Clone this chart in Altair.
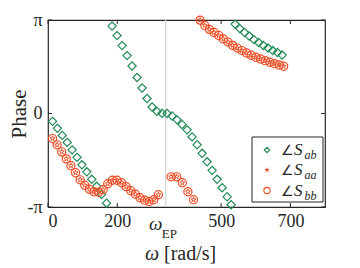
import altair as alt
import pandas as pd

# ---- data (phase in units of pi, omega in rad/s) ----
w_ab = [13.0, 27.2, 41.3, 55.5, 69.7, 83.8, 98.0, 112.1, 126.3, 140.5, 154.6, 169.1,
        185.0, 199.4, 213.9, 228.3, 242.8, 257.2, 271.7, 286.1, 300.6, 315.0, 329.5,
        343.9, 358.4, 372.8, 387.3, 401.7, 416.2, 430.6, 445.1, 459.5, 474.0, 488.4,
        502.9, 517.3, 528.9,
        540.5, 554.0, 567.6, 581.2, 594.8, 608.4, 622.0, 635.5, 649.1, 662.7, 676.3]
ph_ab = [-0.084, -0.159, -0.234, -0.309, -0.389, -0.469, -0.549, -0.624, -0.704, -0.779, -0.865, -0.959,
         0.935, 0.833, 0.726, 0.619, 0.508, 0.385, 0.273, 0.160, 0.070, 0.022, 0.003,
         0.000, -0.026, -0.068, -0.117, -0.175, -0.250, -0.335, -0.426, -0.517, -0.608, -0.704,
         -0.794, -0.891, -0.976,
         0.956, 0.908, 0.866, 0.828, 0.790, 0.759, 0.727, 0.701, 0.673, 0.652, 0.625]

w_bb = [13.0, 26.3, 39.6, 52.9, 66.2, 79.5, 92.8, 106.1, 119.4, 132.7, 146.0, 159.3,
        172.5, 185.8, 199.1, 212.4, 225.7, 239.0, 252.3, 265.6, 278.9, 292.2, 305.5, 318.8,
        355.5, 371.7, 387.9, 404.0, 420.2,
        439.3, 452.6, 466.2, 479.5, 493.1, 506.4, 519.7, 533.2, 546.5, 560.1, 573.4,
        586.7, 600.3, 613.6, 627.2, 640.5, 653.8, 667.3, 680.6]
ph_bb = [-0.268, -0.335, -0.410, -0.485, -0.559, -0.634, -0.709, -0.767, -0.810, -0.837, -0.842, -0.815,
         -0.751, -0.714, -0.714, -0.741, -0.783, -0.826, -0.863, -0.901, -0.927, -0.941, -0.922, -0.869,
         -0.677, -0.677, -0.741, -0.837, -0.922,
         0.999, 0.942, 0.900, 0.866, 0.834, 0.798, 0.764, 0.729, 0.700, 0.673, 0.647,
         0.623, 0.602, 0.583, 0.565, 0.548, 0.533, 0.519, 0.505]
w_aa = list(w_bb)
ph_aa = list(ph_bb)

w_ep = [340.0]
x_ticks = [0, 200, 500, 700]
y_ticks = [-1, 0, 1]
legend_subs = ["ab", "aa", "bb"]

# ---- style ----
FONT = "Liberation Serif"
GREEN = "#218A55"
RED = "#EE4B22"
DARK = "#262626"
W, H = 277, 187
STAR = ("M0,-1L0.225,-0.309L0.951,-0.309L0.363,0.118L0.588,0.809L0,0.382"
        "L-0.588,0.809L-0.363,0.118L-0.951,-0.309L-0.225,-0.309Z")

xs = alt.Scale(domain=[0, 800], nice=False, zero=False)
ys = alt.Scale(domain=[-1, 1], nice=False, zero=False)
xaxis = alt.Axis(values=x_ticks, labelFont=FONT, labelFontSize=18, labelColor=DARK,
                 domain=False, ticks=False, tickSize=0, grid=False, labelPadding=5,
                 title=None)
yaxis = alt.Axis(values=y_ticks, labelFont=FONT, labelFontSize=18, labelColor=DARK,
                 labelExpr="datum.value > 0 ? 'π' : (datum.value < 0 ? '-π' : '0')",
                 domain=False, ticks=False, tickSize=0, grid=False, labelPadding=6,
                 title="Phase", titleFont=FONT, titleFontSize=21, titleFontWeight="normal",
                 titleColor=DARK, titleX=-29, titleY=H / 2, titleAlign="center",
                 titleBaseline="middle", titleAngle=270)

X = alt.X("w:Q", scale=xs, axis=xaxis)
Y = alt.Y("p:Q", scale=ys, axis=yaxis)

ab = pd.DataFrame({"w": w_ab, "p": ph_ab})
aa = pd.DataFrame({"w": w_aa, "p": ph_aa})
bb = pd.DataFrame({"w": w_bb, "p": ph_bb})
ep = pd.DataFrame({"w": w_ep})
xt = pd.DataFrame({"w": x_ticks})
yt = pd.DataFrame({"p": y_ticks})
one = pd.DataFrame({"a": [0]})

layers = []
layers.append(alt.Chart(ep).mark_rule(color="#d4d4d4", strokeWidth=1.2).encode(x=X))

# ticks (inward, MATLAB box style)
layers.append(alt.Chart(xt).mark_rule(color=DARK, strokeWidth=1).encode(
    x=X, y=alt.value(H), y2=alt.value(H - 4)))
layers.append(alt.Chart(xt).mark_rule(color=DARK, strokeWidth=1).encode(
    x=X, y=alt.value(0), y2=alt.value(4)))
layers.append(alt.Chart(yt).mark_rule(color=DARK, strokeWidth=1).encode(
    y=Y, x=alt.value(0), x2=alt.value(4)))
layers.append(alt.Chart(yt).mark_rule(color=DARK, strokeWidth=1).encode(
    y=Y, x=alt.value(W), x2=alt.value(W - 4)))

# data
layers.append(alt.Chart(ab).mark_point(shape="diamond", filled=False, size=68, strokeWidth=1.2,
                                       color=GREEN, opacity=1).encode(x=X, y=Y))
layers.append(alt.Chart(bb).mark_point(shape="circle", filled=False, size=66, strokeWidth=1.2,
                                       color=RED, opacity=1).encode(x=X, y=Y))
layers.append(alt.Chart(aa).mark_point(shape=STAR, filled=False, size=28, strokeWidth=0.9,
                                       color=RED, opacity=1).encode(x=X, y=Y))

# omega_EP tick label
layers.append(alt.Chart(ep).mark_text(text="ω", font=FONT, fontSize=19, fontStyle="italic",
                                      color=DARK, align="center", baseline="alphabetic",
                                      dx=-10).encode(x=X, y=alt.value(210)))
layers.append(alt.Chart(ep).mark_text(text="EP", font=FONT, fontSize=13, color=DARK,
                                      align="left", baseline="alphabetic",
                                      dx=-4).encode(x=X, y=alt.value(218)))

# x title
layers.append(alt.Chart(one).mark_text(text="ω", font=FONT, fontSize=20, fontStyle="italic",
                                       color=DARK, align="left", baseline="alphabetic").encode(
    x=alt.value(97), y=alt.value(240)))
layers.append(alt.Chart(one).mark_text(text="[rad/s]", font=FONT, fontSize=20,
                                       color=DARK, align="left", baseline="alphabetic").encode(
    x=alt.value(116), y=alt.value(240)))

# legend
layers.append(alt.Chart(one).mark_rect(fill="white", stroke=DARK, strokeWidth=1).encode(
    x=alt.value(204), x2=alt.value(275), y=alt.value(117), y2=alt.value(182)))
layers.append(alt.Chart(one).mark_point(shape="diamond", filled=False, size=30, strokeWidth=1.1,
                                        color=GREEN, opacity=1).encode(
    x=alt.value(219), y=alt.value(130)))
layers.append(alt.Chart(one).mark_point(shape=STAR, filled=True, size=34,
                                        color=RED, opacity=1).encode(
    x=alt.value(219), y=alt.value(150)))
layers.append(alt.Chart(one).mark_point(shape="circle", filled=False, size=40, strokeWidth=1.1,
                                        color=RED, opacity=1).encode(
    x=alt.value(219), y=alt.value(170.5)))
for i, sub in enumerate(legend_subs):
    base_y = 135 + 20.3 * i
    layers.append(alt.Chart(one).mark_text(text="∠", font=FONT, fontSize=14, color=DARK,
                                           align="left", baseline="alphabetic").encode(
        x=alt.value(233), y=alt.value(base_y)))
    layers.append(alt.Chart(one).mark_text(text="S", font=FONT, fontSize=17, fontStyle="italic",
                                           color=DARK, align="left", baseline="alphabetic").encode(
        x=alt.value(246), y=alt.value(base_y)))
    layers.append(alt.Chart(one).mark_text(text=sub, font=FONT, fontSize=12, fontStyle="italic",
                                           color=DARK, align="left", baseline="alphabetic").encode(
        x=alt.value(256.5), y=alt.value(base_y + 4)))

chart = alt.layer(*layers).properties(
    width=W, height=H,
    autosize=alt.AutoSizeParams(type="none"),
    padding={"left": 40, "top": 12, "right": 20, "bottom": 60},
).configure_view(stroke=DARK, strokeWidth=1.2)

chart.save("out.html", embed_options={"renderer": "svg", "actions": False})
